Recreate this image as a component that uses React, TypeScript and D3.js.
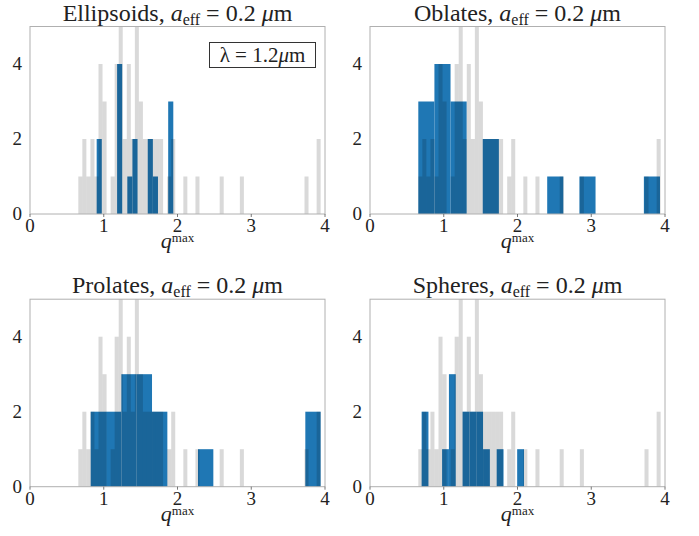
import React from "react";
import * as d3 from "d3";

// ---- data ----
// all-shape background histogram: 60 bins over [0.655, 3.941]
const allDomain = [0.655, 3.941];
const allCounts = [
  1, 2, 1, 2, 1, 4, 3, 0, 1, 4,
  5, 2, 4, 2, 5, 3, 2, 2, 2, 2,
  2, 0, 1, 2, 0, 0, 1, 0, 0, 1,
  0, 0, 0, 0, 0, 1, 0, 0, 0, 0,
  1, 0, 0, 0, 0, 0, 0, 0, 0, 0,
  0, 0, 0, 0, 0, 0, 1, 0, 0, 2,
];

// per-shape histograms: 15 bins over each shape's own range
const shapeNames = ["Ellipsoids", "Oblates", "Prolates", "Spheres"];
const ellipsoidDomain = [0.904, 1.943];
const ellipsoidCounts = [2, 0, 0, 0, 4, 0, 1, 2, 0, 0, 2, 1, 0, 0, 3];
const oblateDomain = [0.655, 3.932];
const oblateCounts = [3, 4, 3, 0, 2, 0, 0, 0, 1, 0, 1, 0, 0, 0, 1];
const prolateDomain = [0.823, 3.941];
const prolateCounts = [2, 2, 3, 3, 2, 0, 0, 1, 0, 0, 0, 0, 0, 0, 2];
const sphereDomain = [0.7, 2.088];
const sphereCounts = [2, 0, 0, 1, 3, 0, 2, 2, 2, 1, 0, 1, 0, 0, 1];

const xTicks = [0, 1, 2, 3, 4];
const yTicks = [0, 2, 4];
const xDomain = [0, 4];
const yDomain = [0, 5];

const shapeDomains = [ellipsoidDomain, oblateDomain, prolateDomain, sphereDomain];
const shapeCounts = [ellipsoidCounts, oblateCounts, prolateCounts, sphereCounts];

const FONT = "'Liberation Serif', 'DejaVu Serif', serif";

function bins(domain: number[], counts: number[]) {
  const w = (domain[1] - domain[0]) / counts.length;
  return counts.map((c, i) => ({ x0: domain[0] + i * w, x1: domain[0] + (i + 1) * w, c }));
}

function Panel({ idx, left, top }: { idx: number; left: number; top: number }) {
  const W = 295;
  const H = 187.5;
  const x = d3.scaleLinear().domain(xDomain).range([left, left + W]);
  const y = d3.scaleLinear().domain(yDomain).range([top + H, top]);
  const blue = bins(shapeDomains[idx], shapeCounts[idx]).filter((b) => b.c > 0);
  const gray = bins(allDomain, allCounts).filter((b) => b.c > 0);
  const cx = left + W / 2;
  return (
    <g>
      {blue.map((b, i) => (
        <rect key={"b" + i} x={x(b.x0)} width={x(b.x1) - x(b.x0)} y={y(b.c)} height={y(0) - y(b.c)} fill="#1f77b4" />
      ))}
      {gray.map((b, i) => (
        <rect key={"g" + i} x={x(b.x0)} width={x(b.x1) - x(b.x0)} y={y(b.c)} height={y(0) - y(b.c)} fill="#000" fillOpacity={0.15} />
      ))}
      <rect x={left} y={top} width={W} height={H} fill="none" stroke="#b0b0b0" strokeWidth={1} />
      {xTicks.map((t) => (
        <g key={"xt" + t}>
          <line x1={x(t)} x2={x(t)} y1={top + H} y2={top + H + 3} stroke="#555" strokeWidth={0.8} />
          <text x={x(t)} y={top + H + 18} textAnchor="middle" fontSize={19} fontFamily={FONT} fill="#222">
            {t}
          </text>
        </g>
      ))}
      {yTicks.map((t) => (
        <text key={"yt" + t} x={left - 8} y={y(t) + 6} textAnchor="end" fontSize={19} fontFamily={FONT} fill="#222">
          {t}
        </text>
      ))}
      <text x={cx} y={top - 6} textAnchor="middle" fontSize={24} fontFamily={FONT} fill="#222">
        <tspan>{shapeNames[idx]}, </tspan>
        <tspan fontStyle="italic">a</tspan>
        <tspan fontSize={16} dy={4}>eff</tspan>
        <tspan dy={-4}> = 0.2 </tspan>
        <tspan fontStyle="italic">μ</tspan>
        <tspan>m</tspan>
      </text>
      <text x={cx} y={top + H + 34} textAnchor="middle" fontSize={22} fontFamily={FONT} fill="#222">
        <tspan fontStyle="italic">q</tspan>
        <tspan fontSize={13} dy={-6}>max</tspan>
      </text>
      {idx === 0 && (
        <g>
          <rect x={209.5} y={42.5} width={106} height={25} fill="#fff" stroke="#333" strokeWidth={1} />
          <text x={262.5} y={62} textAnchor="middle" fontSize={21} fontFamily={FONT} fill="#222">
            <tspan>λ = 1.2</tspan>
            <tspan fontStyle="italic">μ</tspan>
            <tspan>m</tspan>
          </text>
        </g>
      )}
    </g>
  );
}

export default function App() {
  const lefts = [30, 370, 30, 370];
  const tops = [26.5, 26.5, 299.2, 299.2];
  return (
    <svg width={699} height={536} style={{ position: "absolute", left: 0, top: 0, background: "#fff" }}>
      <rect width={699} height={536} fill="#fff" />
      {shapeNames.map((n, i) => (
        <Panel key={n} idx={i} left={lefts[i]} top={tops[i]} />
      ))}
    </svg>
  );
}
